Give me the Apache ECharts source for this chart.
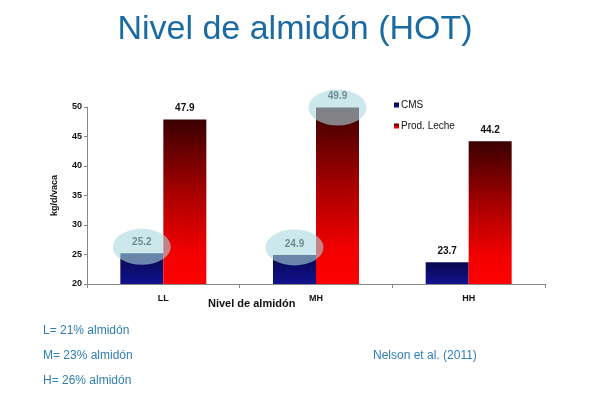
<!DOCTYPE html>
<html>
<head>
<meta charset="utf-8">
<script src="https://cdn.jsdelivr.net/npm/echarts@6/dist/echarts.min.js"></script>
<style>
  html, body { margin: 0; padding: 0; background: #fff; }
  #chart { width: 590px; height: 398px; }
</style>
</head>
<body>
<div id="chart"></div>
<script>
// chart data
const categories = ['LL', 'MH', 'HH']
const cmsValues = [25.2, 24.9, 23.7]
const lecheValues = [47.9, 49.9, 44.2]
const seriesNames = ['CMS', 'Prod. Leche']
// highlighted values (ellipse centres)
const cmsHighlights = [['LL', 26.3], ['MH', 26.2]]
const lecheHighlights = [['MH', 49.9]]
const notes = ['L= 21% almidón', 'M= 23% almidón', 'H= 26% almidón']
const source = 'Nelson et al. (2011)'

let myChart = echarts.init(document.getElementById('chart'))

let ellipse = function (list) {
  return {
    symbol: 'circle',
    symbolSize: [58, 36],
    silent: true,
    label: { show: false },
    itemStyle: { color: 'rgba(170, 216, 224, 0.6)' },
    data: list.map(c => ({ coord: c }))
  }
}

let barLabel = {
  show: true,
  position: 'top',
  distance: 6,
  color: '#111',
  fontSize: 10,
  fontWeight: 'bold',
  fontFamily: 'Liberation Sans'
}

myChart.setOption({
  animation: false,
  title: {
    text: 'Nivel de almidón (HOT)',
    left: 'center',
    top: 8,
    textStyle: {
      color: '#1b6ba3',
      fontSize: 34,
      fontWeight: 'normal',
      fontFamily: 'Liberation Sans'
    }
  },
  legend: {
    orient: 'vertical',
    left: 389,
    top: 95,
    itemWidth: 5,
    itemHeight: 5,
    itemGap: 11,
    icon: 'rect',
    data: seriesNames,
    textStyle: { fontSize: 10, color: '#111', fontFamily: 'Liberation Sans', padding: [0, 0, 0, -3] }
  },
  grid: {
    left: 87,
    right: 45,
    top: 107,
    bottom: 114
  },
  xAxis: {
    type: 'category',
    data: categories,
    axisLine: { lineStyle: { color: '#888' } },
    axisTick: { show: true, length: 4, lineStyle: { color: '#888' } },
    axisLabel: { color: '#111', fontSize: 9, fontWeight: 'bold', margin: 10, fontFamily: 'Liberation Sans' }
  },
  yAxis: {
    type: 'value',
    min: 20,
    max: 50,
    interval: 5,
    name: 'kg/d/vaca',
    nameLocation: 'middle',
    nameGap: 28,
    nameTextStyle: { fontSize: 9, fontWeight: 'bold', color: '#111', fontFamily: 'Liberation Sans' },
    splitLine: { show: false },
    axisLine: { show: true, lineStyle: { color: '#888' } },
    axisTick: { show: true, length: 3, lineStyle: { color: '#888' } },
    axisLabel: { color: '#111', fontSize: 9, fontWeight: 'bold', margin: 5, fontFamily: 'Liberation Sans' }
  },
  series: [
    {
      name: seriesNames[0],
      type: 'bar',
      barWidth: 43,
      barGap: 0,
      data: cmsValues,
      label: barLabel,
      itemStyle: {
        color: new echarts.graphic.LinearGradient(0, 0, 0, 1, [
          { offset: 0, color: '#07074f' },
          { offset: 1, color: '#12128e' }
        ])
      },
      markPoint: ellipse(cmsHighlights)
    },
    {
      name: seriesNames[1],
      type: 'bar',
      barWidth: 43,
      barGap: 0,
      data: lecheValues,
      label: barLabel,
      itemStyle: {
        color: new echarts.graphic.LinearGradient(0, 0, 0, 1, [
          { offset: 0, color: '#3a0000' },
          { offset: 0.45, color: '#a80000' },
          { offset: 0.8, color: '#f20000' },
          { offset: 1, color: '#ff0000' }
        ])
      },
      markPoint: ellipse(lecheHighlights)
    }
  ],
  color: ['#0c0c78', '#ee0000'],
  graphic: [
    {
      type: 'text',
      left: 208,
      top: 298,
      style: { text: 'Nivel de almidón', fontSize: 11, fontWeight: 'bold', fill: '#111', fontFamily: 'Liberation Sans' }
    },
    ...notes.map((t, i) => ({
      type: 'text',
      left: 43,
      top: 325 + i * 25,
      style: { text: t, fontSize: 12, fill: '#2f7db3', fontFamily: 'Liberation Sans' }
    })),
    {
      type: 'text',
      left: 373,
      top: 350,
      style: { text: source, fontSize: 12, fill: '#2f7db3', fontFamily: 'Liberation Sans' }
    }
  ]
})
</script>
</body>
</html>
